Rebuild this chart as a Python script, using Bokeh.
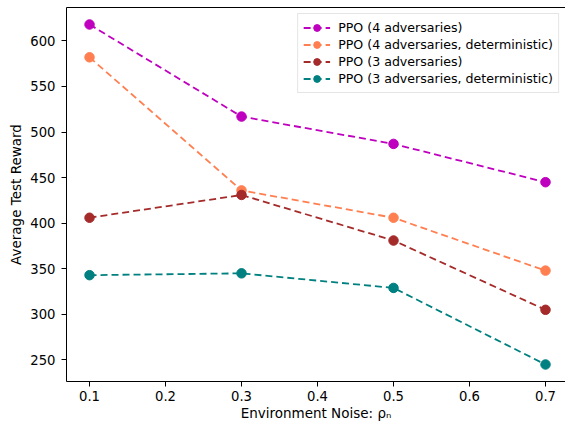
from bokeh.plotting import figure
from bokeh.models import Legend, LegendItem, FixedTicker, Range1d, LinearAxis
from bokeh.embed import file_html
from bokeh.resources import INLINE

noise = [0.1, 0.3, 0.5, 0.7]
ppo4 = [618, 517, 487, 445]
ppo4_det = [582, 436, 406, 348]
ppo3 = [406, 431, 381, 305]
ppo3_det = [343, 345, 329, 245]

series = [
    ("PPO (4 adversaries)", ppo4, "#bf00bf"),
    ("PPO (4 adversaries, deterministic)", ppo4_det, "#ff7f50"),
    ("PPO (3 adversaries)", ppo3, "#a52a2a"),
    ("PPO (3 adversaries, deterministic)", ppo3_det, "#008080"),
]
x_ticks = [0.1, 0.2, 0.3, 0.4, 0.5, 0.6, 0.7]
y_ticks = [250, 300, 350, 400, 450, 500, 550, 600]

FONT = "DejaVu Sans"

p = figure(width=565, height=427, output_backend="svg", toolbar_location=None,
           x_range=Range1d(0.0697, 0.7263), y_range=Range1d(226.35, 636.65),
           min_border_left=66, min_border_right=0, min_border_top=7, min_border_bottom=46)
p.xgrid.visible = False
p.ygrid.visible = False
p.outline_line_color = None
p.background_fill_color = "white"
p.border_fill_color = "white"

xax = p.below[0]
yax = p.left[0]

# top spine (matplotlib-style frame; right spine lies outside the picture)
top = LinearAxis(ticker=FixedTicker(ticks=[]), major_tick_out=0, major_tick_in=0,
                 minor_tick_out=0, minor_tick_in=0, major_label_text_font_size="0px",
                 major_label_standoff=0, axis_label=None,
                 axis_line_color="black", axis_line_width=1)
p.add_layout(top, "above")

items = []
for name, ys, col in series:
    l = p.line(noise, ys, line_color=col, line_width=1.8, line_dash="7 4")
    c = p.scatter(noise, ys, size=9.5, fill_color=col, line_color=col, marker="circle")
    items.append(LegendItem(label=name, renderers=[l, c]))

for ax in (xax, yax):
    ax.major_label_text_font = FONT
    ax.major_label_text_font_size = "13.2px"
    ax.major_label_text_color = "black"
    ax.axis_label_text_font = FONT
    ax.axis_label_text_font_size = "13.5px"
    ax.axis_label_text_font_style = "normal"
    ax.axis_label_text_color = "black"
    ax.minor_tick_line_color = None
    ax.major_tick_out = 5
    ax.major_tick_in = 0
    ax.major_tick_line_color = "black"
    ax.axis_line_color = "black"

xax.ticker = FixedTicker(ticks=x_ticks)
yax.ticker = FixedTicker(ticks=y_ticks)
xax.axis_label = "Environment Noise: ρₙ"
yax.axis_label = "Average Test Reward"
xax.major_label_standoff = 4
yax.major_label_standoff = 6
xax.axis_label_standoff = 1
yax.axis_label_standoff = 3

legend = Legend(items=items, location="top_right")
legend.label_text_font = FONT
legend.label_text_font_size = "12.6px"
legend.label_text_color = "black"
legend.border_line_color = "#cccccc"
legend.border_line_width = 1
legend.background_fill_alpha = 0.8
legend.glyph_width = 27
legend.glyph_height = 17
legend.label_height = 17
legend.spacing = 0
legend.padding = 5
legend.margin = 6
legend.label_standoff = 8
p.add_layout(legend)

open("out.html", "w").write(file_html(p, INLINE))
